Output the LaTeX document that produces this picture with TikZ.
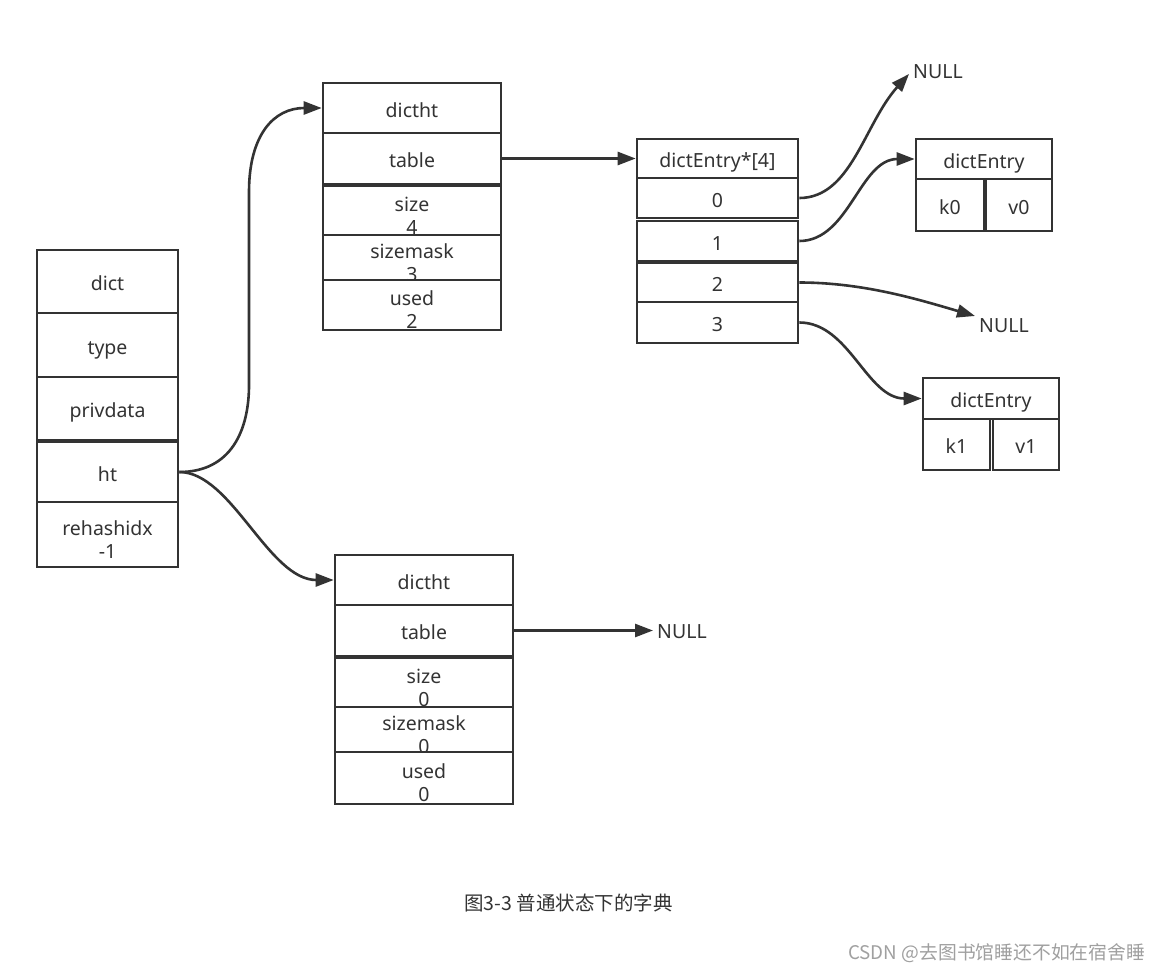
\documentclass[tikz,border=0pt]{standalone}
\usepackage{fontspec}
\setmainfont{Noto Sans}
\newfontfamily\cjk{Noto Sans CJK SC}
\usetikzlibrary{arrows.meta}
\definecolor{ln}{HTML}{333333}
\definecolor{wm}{HTML}{A0A0A0}
\newcommand\twol[2]{\raisebox{-4pt}{\begin{tabular}{@{}c@{}}#1\\#2\end{tabular}}}
\begin{document}
\begin{tikzpicture}[x=1pt,y=-1pt,
  cell/.style={draw=ln, line width=2.6pt, fill=white, text=ln,
    font=\fontsize{19.5}{23}\selectfont, inner sep=0pt,
    text height=19pt, text depth=1pt},
  txt/.style={text=ln, font=\fontsize{19.5}{23}\selectfont, inner sep=4pt,
    text height=17pt, text depth=1pt},
  arr/.style={draw=ln, line width=2.6pt, -{Triangle[length=18pt,width=13pt]}}]
\fill[white] (0,0) rectangle (1161,972);
\useasboundingbox (0,0) rectangle (1161,972);

% dict
\node[cell, minimum width=141pt, minimum height=63pt] (dict) at (107.5,281.5) {dict};
\node[cell, minimum width=141pt, minimum height=64pt] (type) at (107.5,345) {type};
\node[cell, minimum width=141pt, minimum height=63pt] (priv) at (107.5,408.5) {privdata};
\node[cell, minimum width=141pt, minimum height=60pt] (ht) at (107.5,472) {ht};
\node[cell, minimum width=141pt, minimum height=65pt] (rehash) at (107.5,534.5) {\twol{rehashidx}{-1}};

% top dictht
\node[cell, minimum width=178pt, minimum height=50pt] (ta-h) at (412,108) {dictht};
\node[cell, minimum width=178pt, minimum height=51pt] (ta-t) at (412,158.5) {table};
\node[cell, minimum width=178pt, minimum height=49pt] (ta-s) at (412,210.5) {\twol{size}{4}};
\node[cell, minimum width=178pt, minimum height=45pt] (ta-m) at (412,257.5) {\twol{sizemask}{3}};
\node[cell, minimum width=178pt, minimum height=50pt] (ta-u) at (412,305) {\twol{used}{2}};

% bottom dictht
\node[cell, minimum width=178pt, minimum height=50pt] (tb-h) at (424,580) {dictht};
\node[cell, minimum width=178pt, minimum height=51pt] (tb-t) at (424,630.5) {table};
\node[cell, minimum width=178pt, minimum height=49pt] (tb-s) at (424,682.5) {\twol{size}{0}};
\node[cell, minimum width=178pt, minimum height=45pt] (tb-m) at (424,729.5) {\twol{sizemask}{0}};
\node[cell, minimum width=178pt, minimum height=52pt] (tb-u) at (424,778) {\twol{used}{0}};

% dictEntry array
\node[cell, minimum width=161pt, minimum height=39pt] (ar-h) at (717.5,158.5) {dictEntry*[4]};
\node[cell, minimum width=161pt, minimum height=40pt] (ar-0) at (717.5,198) {0};
\node[cell, minimum width=161pt, minimum height=40pt] (ar-1) at (717.5,241) {1};
\node[cell, minimum width=161pt, minimum height=39pt] (ar-2) at (717.5,282.5) {2};
\node[cell, minimum width=161pt, minimum height=41pt] (ar-3) at (717.5,322.5) {3};

% dictEntry k0 v0
\node[cell, minimum width=136pt, minimum height=40pt] (ea-h) at (984,159) {dictEntry};
\node[cell, minimum width=68pt, minimum height=52pt] (ea-k) at (950,205) {k0};
\node[cell, minimum width=66pt, minimum height=52pt] (ea-v) at (1019,205) {v0};

% dictEntry k1 v1
\node[cell, minimum width=136pt, minimum height=41pt] (eb-h) at (991,398.5) {dictEntry};
\node[cell, minimum width=67pt, minimum height=51pt] (eb-k) at (956.5,444.5) {k1};
\node[cell, minimum width=66pt, minimum height=51pt] (eb-v) at (1026,444.5) {v1};

% NULLs
\node[txt, anchor=west] (nulla) at (909,70) {NULL};
\node[txt, anchor=west] (nullb) at (975,324) {NULL};
\node[txt, anchor=west] (nullc) at (653,630.5) {NULL};

% connectors
\coordinate (v1) at (249,385);
\coordinate (v2) at (249,192);
\draw[arr] (ht.east) .. controls +(52,0) and +(0,45) .. (v1) -- (v2) .. controls +(0,-57) and +(-48,0) .. (ta-h.west);
\draw[arr] (ht.east) .. controls +(52,0) and +(-65,0) .. (tb-h.west);
\draw[arr] (ta-t.east) -- (ar-h.west);
\draw[arr] (tb-t.east) -- (nullc.west);
\draw[arr] (ar-0.east) .. controls +(52,0) and +(-45,50) .. ([yshift=-4pt]nulla.west);
\draw[arr] (ar-1.east) .. controls +(50,0) and +(-55,0) .. (ea-h.west);
\draw[arr] (ar-2.east) .. controls +(65,0) and +(-55,-16) .. ([yshift=8pt]nullb.west);
\draw[arr] (ar-3.east) .. controls +(50,0) and +(-55,0) .. (eb-h.west);

% caption & watermark
\node[text=ln, font=\cjk\fontsize{19.5}{23}\selectfont, inner sep=0pt] (cap) at (568.5,903) {图3-3 普通状态下的字典};
\node[text=wm, font=\cjk\fontsize{18.8}{20}\selectfont, inner sep=0pt, anchor=west] (wmk) at (848,953) {CSDN @去图书馆睡还不如在宿舍睡};
\end{tikzpicture}
\end{document}
